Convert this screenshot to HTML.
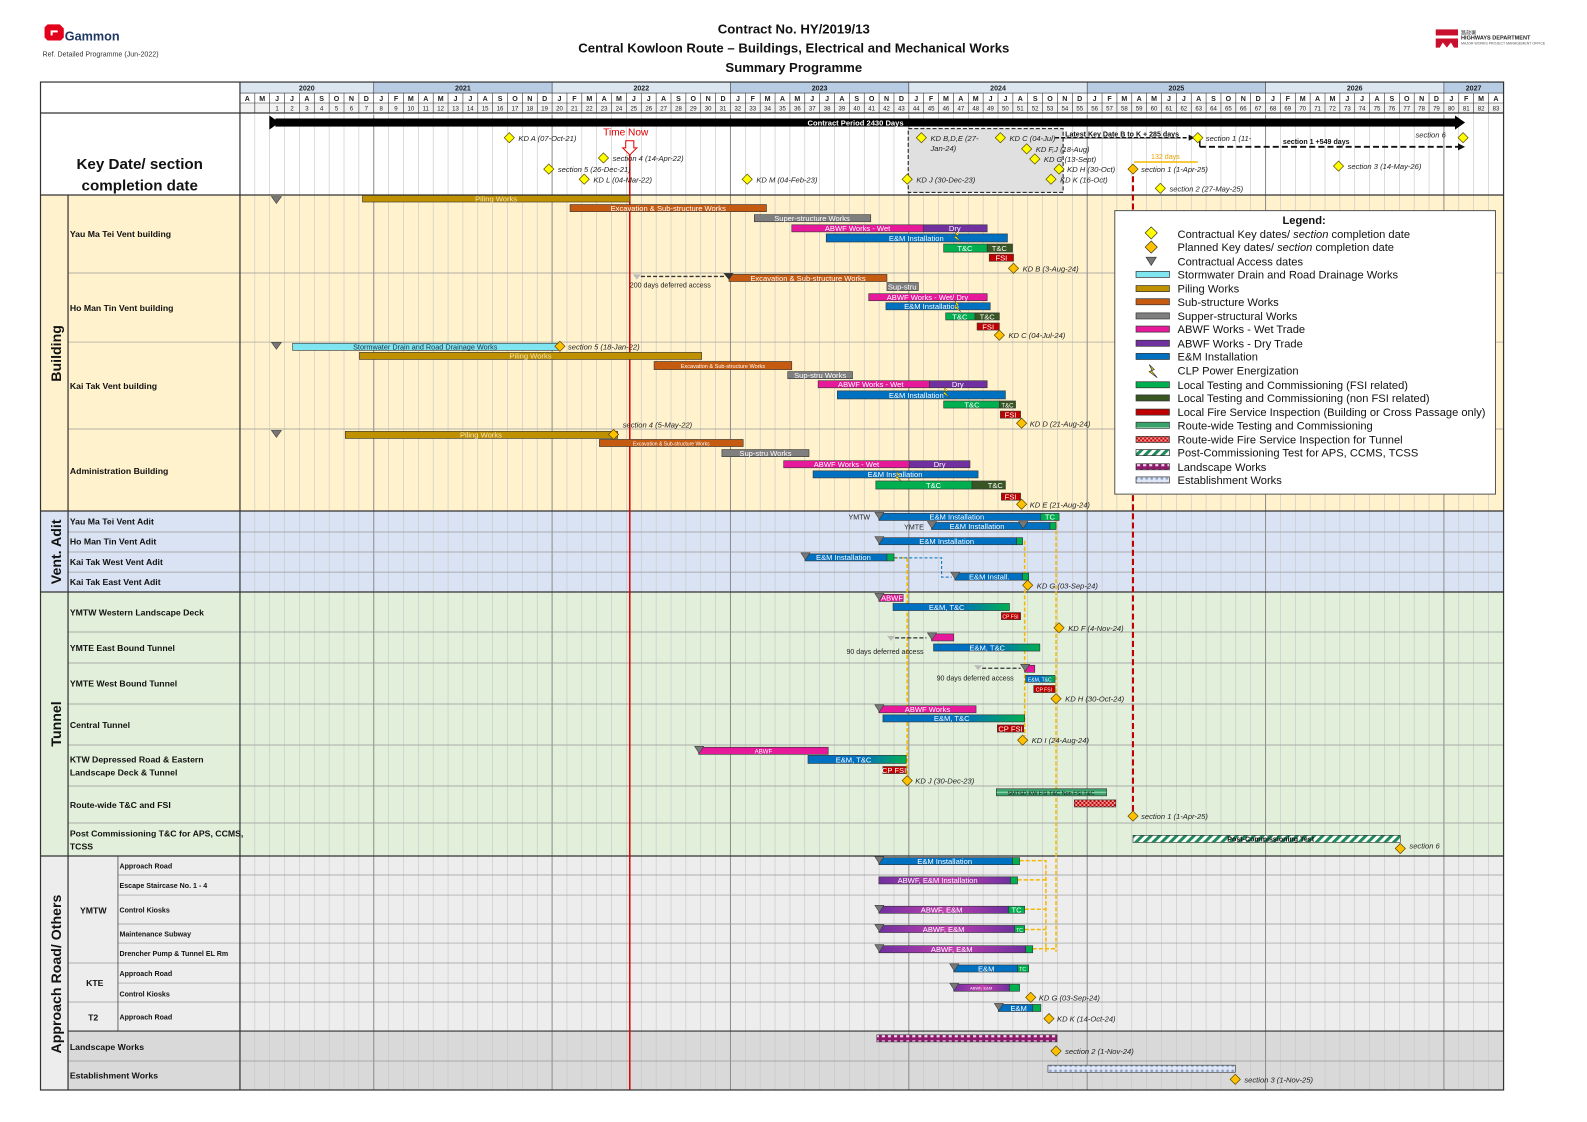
<!DOCTYPE html>
<html><head><meta charset="utf-8"><style>
html,body{margin:0;padding:0;background:#fff}
svg{display:block;font-family:"Liberation Sans",sans-serif}
.bt{font-size:7.5px;fill:#fff;text-anchor:middle}
.lb{font-size:7.5px;font-style:italic;fill:#222}
.rl{font-size:8.6px;font-weight:bold;fill:#111}
.sl{font-size:7px;font-weight:bold;fill:#111}
.b{stroke:#333;stroke-width:.6}
.lg{font-size:11px;fill:#111}
</style></head><body>
<svg width="1587" height="1122" viewBox="0 0 1567.4 1108.1" xmlns="http://www.w3.org/2000/svg">
<defs>
<pattern id="pLand" width="6" height="6" patternUnits="userSpaceOnUse"><rect width="6" height="6" fill="#8b1a6b"/><rect x="1" y="1.5" width="3" height="3" fill="#f6d5ee"/></pattern>
<pattern id="pEst" width="5" height="5" patternUnits="userSpaceOnUse"><rect width="5" height="5" fill="#dfe6f5"/><circle cx="2.5" cy="2.5" r="1.3" fill="#8fa3c9"/></pattern>
<pattern id="pPost" width="6" height="6" patternUnits="userSpaceOnUse" patternTransform="rotate(45)"><rect width="6" height="6" fill="#fff"/><rect width="3" height="6" fill="#1f8a5a"/></pattern>
<pattern id="pRW" width="6" height="6" patternUnits="userSpaceOnUse"><rect width="6" height="6" fill="#3aa36b"/><rect y="2" width="6" height="1" fill="#a8dfc0"/></pattern>
<pattern id="pRF" width="4" height="4" patternUnits="userSpaceOnUse"><rect width="4" height="4" fill="#c00000"/><rect width="2" height="2" fill="#f4a0a0"/><rect x="2" y="2" width="2" height="2" fill="#f4a0a0"/></pattern>
<linearGradient id="gET" x1="0" x2="1"><stop offset="0.55" stop-color="#0070c0"/><stop offset="1" stop-color="#00b050"/></linearGradient>
<linearGradient id="gAE" x1="0" x2="1"><stop offset="0" stop-color="#7030a0"/><stop offset="0.5" stop-color="#c040b0"/><stop offset="1" stop-color="#7030a0"/></linearGradient>
</defs>

<!-- logos & title -->
<path d="M47 24h12l4 4v9l-3 3H47l-3-3v-10z" fill="#e3001b"/>
<rect x="50" y="30" width="7" height="5" fill="#fff"/><rect x="52" y="32" width="6" height="4" fill="#e3001b"/>
<text x="64" y="40" font-size="12.5" font-weight="bold" fill="#1f3864">Gammon</text>
<text x="42" y="56" font-size="7" fill="#333">Ref. Detailed Programme (Jun-2022)</text>
<text x="784" y="33" font-size="13" font-weight="bold" text-anchor="middle" fill="#111">Contract No. HY/2019/13</text>
<text x="784" y="52" font-size="13" font-weight="bold" text-anchor="middle" fill="#111">Central Kowloon Route – Buildings, Electrical and Mechanical Works</text>
<text x="784" y="71" font-size="13" font-weight="bold" text-anchor="middle" fill="#111">Summary Programme</text>
<rect x="1418" y="29" width="22" height="6" fill="#c8102e"/><path d="M1418 38h22v9h-4l-3-5-4 5-4-5-3 5h-4z" fill="#c8102e"/>
<text x="1443" y="34" font-size="5" fill="#333">路政署</text>
<text x="1443" y="39" font-size="5.5" font-weight="bold" fill="#222">HIGHWAYS DEPARTMENT</text>
<text x="1443" y="44" font-size="3.5" fill="#555">MAJOR WORKS PROJECT MANAGEMENT OFFICE</text>

<!-- backgrounds -->
<rect x="40" y="81" width="1445" height="995.5" fill="#fff"/>
<rect x="40" y="192.6" width="1445" height="312.1" fill="#fff2cc"/>
<rect x="40" y="504.7" width="1445" height="80" fill="#dae3f3"/>
<rect x="40" y="584.7" width="1445" height="260.7" fill="#e2efda"/>
<rect x="40" y="845.4" width="1445" height="172.9" fill="#ededed"/>
<rect x="67.2" y="1018.3" width="1418" height="58.2" fill="#d9d9d9"/>
<rect x="40" y="1018.3" width="27.2" height="58.2" fill="#ededed"/>
<!-- header -->
<rect x="237" y="81" width="132.1" height="10.9" fill="#dce6f1"/>
<rect x="369.1" y="81" width="176.2" height="10.9" fill="#b8cce4"/>
<rect x="545.3" y="81" width="176.2" height="10.9" fill="#dce6f1"/>
<rect x="721.5" y="81" width="176.2" height="10.9" fill="#b8cce4"/>
<rect x="897.7" y="81" width="176.2" height="10.9" fill="#dce6f1"/>
<rect x="1073.9" y="81" width="176.2" height="10.9" fill="#b8cce4"/>
<rect x="1250.1" y="81" width="176.2" height="10.9" fill="#dce6f1"/>
<rect x="1426.3" y="81" width="58.7" height="10.9" fill="#b8cce4"/>
<rect x="237" y="101.7" width="1248" height="9.9" fill="#f2f2f2"/>
<rect x="1073.9" y="113" width="176.2" height="79.6" fill="#fff"/>
<g id="grid"></g>
<g font-size="7" font-weight="bold" text-anchor="middle" fill="#222">
<text x="303" y="89.5">2020</text><text x="457.2" y="89.5">2021</text><text x="633.4" y="89.5">2022</text><text x="809.5" y="89.5">2023</text><text x="985.7" y="89.5">2024</text><text x="1161.8" y="89.5">2025</text><text x="1338" y="89.5">2026</text><text x="1455.4" y="89.5">2027</text>
<text y="99.5" x="244.3 259.0 273.7 288.4 303.1 317.7 332.4 347.1 361.8 376.5 391.1 405.8 420.5 435.2 449.9 464.5 479.2 493.9 508.6 523.3 537.9 552.6 567.3 582.0 596.7 611.3 626.0 640.7 655.4 670.1 684.7 699.4 714.1 728.8 743.5 758.1 772.8 787.5 802.2 816.9 831.5 846.2 860.9 875.6 890.3 904.9 919.6 934.3 949.0 963.7 978.3 993.0 1007.7 1022.4 1037.1 1051.7 1066.4 1081.1 1095.8 1110.5 1125.1 1139.8 1154.5 1169.2 1183.9 1198.5 1213.2 1227.9 1242.6 1257.3 1271.9 1286.6 1301.3 1316.0 1330.7 1345.3 1360.0 1374.7 1389.4 1404.1 1418.7 1433.4 1448.1 1462.8 1477.5">AMJJASONDJFMAMJJASONDJFMAMJJASONDJFMAMJJASONDJFMAMJJASONDJFMAMJJASONDJFMAMJJASONDJFMA</text>
</g>
<g font-size="6" text-anchor="middle" fill="#222" id="nums">
<text x="273.7" y="109">1</text><text x="288.4" y="109">2</text><text x="303.1" y="109">3</text><text x="317.7" y="109">4</text><text x="332.4" y="109">5</text><text x="347.1" y="109">6</text><text x="361.8" y="109">7</text><text x="376.5" y="109">8</text><text x="391.1" y="109">9</text><text x="405.8" y="109">10</text><text x="420.5" y="109">11</text><text x="435.2" y="109">12</text><text x="449.9" y="109">13</text><text x="464.5" y="109">14</text><text x="479.2" y="109">15</text><text x="493.9" y="109">16</text><text x="508.6" y="109">17</text><text x="523.3" y="109">18</text><text x="537.9" y="109">19</text><text x="552.6" y="109">20</text><text x="567.3" y="109">21</text><text x="582.0" y="109">22</text><text x="596.7" y="109">23</text><text x="611.3" y="109">24</text><text x="626.0" y="109">25</text><text x="640.7" y="109">26</text><text x="655.4" y="109">27</text><text x="670.1" y="109">28</text><text x="684.7" y="109">29</text><text x="699.4" y="109">30</text><text x="714.1" y="109">31</text><text x="728.8" y="109">32</text><text x="743.5" y="109">33</text><text x="758.1" y="109">34</text><text x="772.8" y="109">35</text><text x="787.5" y="109">36</text><text x="802.2" y="109">37</text><text x="816.9" y="109">38</text><text x="831.5" y="109">39</text><text x="846.2" y="109">40</text><text x="860.9" y="109">41</text><text x="875.6" y="109">42</text><text x="890.3" y="109">43</text><text x="904.9" y="109">44</text><text x="919.6" y="109">45</text><text x="934.3" y="109">46</text><text x="949.0" y="109">47</text><text x="963.7" y="109">48</text><text x="978.3" y="109">49</text><text x="993.0" y="109">50</text><text x="1007.7" y="109">51</text><text x="1022.4" y="109">52</text><text x="1037.1" y="109">53</text><text x="1051.7" y="109">54</text><text x="1066.4" y="109">55</text><text x="1081.1" y="109">56</text><text x="1095.8" y="109">57</text><text x="1110.5" y="109">58</text><text x="1125.1" y="109">59</text><text x="1139.8" y="109">60</text><text x="1154.5" y="109">61</text><text x="1169.2" y="109">62</text><text x="1183.9" y="109">63</text><text x="1198.5" y="109">64</text><text x="1213.2" y="109">65</text><text x="1227.9" y="109">66</text><text x="1242.6" y="109">67</text><text x="1257.3" y="109">68</text><text x="1271.9" y="109">69</text><text x="1286.6" y="109">70</text><text x="1301.3" y="109">71</text><text x="1316.0" y="109">72</text><text x="1330.7" y="109">73</text><text x="1345.3" y="109">74</text><text x="1360.0" y="109">75</text><text x="1374.7" y="109">76</text><text x="1389.4" y="109">77</text><text x="1404.1" y="109">78</text><text x="1418.7" y="109">79</text><text x="1433.4" y="109">80</text><text x="1448.1" y="109">81</text><text x="1462.8" y="109">82</text><text x="1477.5" y="109">83</text>
</g>

<!-- horizontal row lines -->
<g stroke="#999" stroke-width=".7">
<line x1="67.2" x2="1485" y1="269.6" y2="269.6"/><line x1="67.2" x2="1485" y1="337.8" y2="337.8"/><line x1="67.2" x2="1485" y1="423.7" y2="423.7"/>
<line x1="67.2" x2="1485" y1="525.4" y2="525.4"/><line x1="67.2" x2="1485" y1="545.2" y2="545.2"/><line x1="67.2" x2="1485" y1="565" y2="565"/>
<line x1="67.2" x2="1485" y1="624.2" y2="624.2"/><line x1="67.2" x2="1485" y1="654.8" y2="654.8"/><line x1="67.2" x2="1485" y1="695.3" y2="695.3"/><line x1="67.2" x2="1485" y1="735.8" y2="735.8"/><line x1="67.2" x2="1485" y1="776.3" y2="776.3"/><line x1="67.2" x2="1485" y1="812.8" y2="812.8"/>
<line x1="116.5" x2="1485" y1="864.2" y2="864.2"/><line x1="116.5" x2="1485" y1="884" y2="884"/><line x1="116.5" x2="1485" y1="912.6" y2="912.6"/><line x1="116.5" x2="1485" y1="931.4" y2="931.4"/><line x1="67.2" x2="1485" y1="951.1" y2="951.1"/><line x1="116.5" x2="1485" y1="970.9" y2="970.9"/><line x1="67.2" x2="1485" y1="989.6" y2="989.6"/><line x1="67.2" x2="1485" y1="1047.9" y2="1047.9"/>
</g>
<g stroke="#333" stroke-width="1.2" fill="none">
<rect x="40" y="81" width="1445" height="995.5"/>
<line x1="40" x2="1485" y1="111.6" y2="111.6"/><line x1="40" x2="1485" y1="192.6" y2="192.6"/>
<line x1="40" x2="1485" y1="504.7" y2="504.7"/><line x1="40" x2="1485" y1="584.7" y2="584.7"/><line x1="40" x2="1485" y1="845.4" y2="845.4"/><line x1="67.2" x2="1485" y1="1018.3" y2="1018.3"/>
<line x1="237" x2="237" y1="81" y2="1076.5"/>
<line x1="67.2" x2="67.2" y1="192.6" y2="1076.5"/><line x1="116.5" x2="116.5" y1="845.4" y2="1018.3" stroke-width=".7"/>
<line x1="237" x2="1485" y1="91.9" y2="91.9" stroke-width=".6"/><line x1="237" x2="1485" y1="101.7" y2="101.7" stroke-width=".6"/>
</g>

<!-- left labels -->
<text x="138" y="167" font-size="15" font-weight="bold" text-anchor="middle" fill="#111">Key Date/ section</text>
<text x="138" y="188" font-size="15" font-weight="bold" text-anchor="middle" fill="#111">completion date</text>
<g font-size="14" font-weight="bold" text-anchor="middle" fill="#111">
<text transform="translate(60,349) rotate(-90)">Building</text>
<text transform="translate(60,545) rotate(-90)">Vent. Adit</text>
<text transform="translate(60,715) rotate(-90)">Tunnel</text>
<text transform="translate(60,962) rotate(-90)">Approach Road/ Others</text>
</g>
<g class="rl">
<text x="69" y="234" class="rl">Yau Ma Tei Vent building</text>
<text x="69" y="307" class="rl">Ho Man Tin Vent building</text>
<text x="69" y="384" class="rl">Kai Tak Vent building</text>
<text x="69" y="468" class="rl">Administration Building</text>
<text x="69" y="518" class="rl">Yau Ma Tei Vent Adit</text>
<text x="69" y="538" class="rl">Ho Man Tin Vent Adit</text>
<text x="69" y="558" class="rl">Kai Tak West Vent Adit</text>
<text x="69" y="578" class="rl">Kai Tak East Vent Adit</text>
<text x="69" y="608" class="rl">YMTW Western Landscape Deck</text>
<text x="69" y="643" class="rl">YMTE East Bound Tunnel</text>
<text x="69" y="678" class="rl">YMTE West Bound Tunnel</text>
<text x="69" y="719" class="rl">Central Tunnel</text>
<text x="69" y="753" class="rl">KTW Depressed Road &amp; Eastern</text>
<text x="69" y="766" class="rl">Landscape Deck &amp; Tunnel</text>
<text x="69" y="798" class="rl">Route-wide T&amp;C and FSI</text>
<text x="69" y="826" class="rl">Post Commissioning T&amp;C for APS, CCMS,</text>
<text x="69" y="839" class="rl">TCSS</text>
<text x="79" y="902" class="rl">YMTW</text>
<text x="85" y="974" class="rl">KTE</text>
<text x="87" y="1008" class="rl">T2</text>
<text x="69" y="1037" class="rl">Landscape Works</text>
<text x="69" y="1065" class="rl">Establishment Works</text>
</g>
<g class="sl">
<text x="118" y="858">Approach Road</text><text x="118" y="877">Escape Staircase No. 1 - 4</text><text x="118" y="901">Control Kiosks</text><text x="118" y="925">Maintenance Subway</text><text x="118" y="944">Drencher Pump &amp; Tunnel EL Rm</text><text x="118" y="964">Approach Road</text><text x="118" y="984">Control Kiosks</text><text x="118" y="1007">Approach Road</text>
</g>

<!-- key date area -->
<rect x="897" y="127" width="153" height="63" fill="#e0e0e0" stroke="#111" stroke-dasharray="4,2" stroke-width="1"/>
<rect x="272" y="117" width="1166" height="8" fill="#000"/>
<path d="M272 114 L282 121 L272 128 Z" fill="#000" transform="translate(-6,0)"/><path d="M1447 121 L1437 114 L1437 128 Z" fill="#000"/>
<text x="845" y="124" font-size="7.5" font-weight="bold" fill="#fff" text-anchor="middle">Contract Period 2430 Days</text>
<text x="1052" y="135" font-size="7" font-weight="bold" fill="#111" text-decoration="underline">Latest Key Date B to K + 285 days</text>
<line x1="1042" y1="136" x2="1176" y2="136" stroke="#111" stroke-width="1.5" stroke-dasharray="4,2"/>
<path d="M1180 136 l-6 -3 v6z" fill="#111"/>
<line x1="1185" y1="145" x2="1440" y2="145" stroke="#111" stroke-width="1.8" stroke-dasharray="6,3"/><line x1="1185" y1="137" x2="1185" y2="145" stroke="#111" stroke-width="1.5"/>
<path d="M1447 145 l-7 -3.5 v7z" fill="#111"/>
<text x="1300" y="142" font-size="7" font-weight="bold" fill="#111" text-anchor="middle">section 1 +549 days</text>
<text x="1151" y="157" font-size="7" fill="#e8a000" text-anchor="middle">132 days</text>
<line x1="1120" y1="160" x2="1183" y2="160" stroke="#f5b800" stroke-width="1.5"/>
<line x1="1119" y1="174" x2="1119" y2="806" stroke="#c00000" stroke-width="2" stroke-dasharray="6,3"/>
<!-- time now -->
<line x1="622" y1="140" x2="622" y2="1076" stroke="#e00000" stroke-width="1.5"/>
<text x="618" y="134" font-size="10" fill="#e00000" text-anchor="middle">Time Now</text>
<path d="M618 139h8v7h3l-7 7-7-7h3z" fill="#fff" stroke="#e00000" stroke-width="1"/>

<!-- yellow dashed links -->
<g stroke="#f5b800" stroke-width="1.5" stroke-dasharray="4,2" fill="none">
<line x1="896" y1="551" x2="896" y2="770"/><line x1="883" y1="551" x2="896" y2="551"/>
<line x1="1012" y1="534" x2="1012" y2="727"/>
<line x1="1043" y1="512" x2="1043" y2="940"/><line x1="1034" y1="520" x2="1043" y2="520"/>
<path d="M1007 850H1033V940M1005 869H1033M1012 898H1033M1012 918H1033M1020 937H1043"/>
</g>
<path d="M883 551H930V570H940" stroke="#0070c0" stroke-width="1" stroke-dasharray="3,2" fill="none"/>

<g id="bars">
<!-- Yau Ma Tei -->
<rect class="b" x="358" y="193" width="264" height="6.5" fill="#bf9000"/><text class="bt" x="490" y="199" fill="#f3e3b0" style="fill:#f5e6b5">Piling Works</text>
<rect class="b" x="563" y="202" width="194" height="7" fill="#c55a11"/><text class="bt" x="660" y="208.3">Excavation &amp; Sub-structure Works</text>
<rect class="b" x="745" y="212" width="115" height="7" fill="#7f7f7f"/><text class="bt" x="802" y="218.3">Super-structure Works</text>
<rect class="b" x="782" y="222" width="130" height="7" fill="#e6199a"/><text class="bt" x="847" y="228.3">ABWF Works - Wet</text>
<rect class="b" x="912" y="222" width="63" height="7" fill="#7030a0"/><text class="bt" x="943" y="228.3">Dry</text>
<rect class="b" x="816" y="231" width="179" height="8" fill="#0070c0"/><text class="bt" x="905" y="238">E&amp;M Installation</text>
<rect class="b" x="932" y="241" width="43" height="8" fill="#00b050"/><text class="bt" x="953" y="248">T&amp;C</text>
<rect class="b" x="975" y="241" width="25" height="8" fill="#375623"/><text class="bt" x="987" y="248">T&amp;C</text>
<rect class="b" x="977" y="251" width="24" height="7" fill="#c00000"/><text class="bt" x="989" y="257.3">FSI</text>
<path d="M943 228l4 4-3 1 5 6-7-5 3-1z" fill="#ffeb00" stroke="#333" stroke-width=".4"/>
<!-- Ho Man Tin -->
<path d="M625 271h8l-4 5z" fill="#bbb"/><line x1="633" y1="273" x2="716" y2="273" stroke="#333" stroke-width="1.3" stroke-dasharray="4,2"/>
<text x="622" y="284" font-size="7" fill="#222">200 days deferred access</text>
<rect class="b" x="720" y="271" width="156" height="7" fill="#c55a11"/><text class="bt" x="798" y="277.3">Excavation &amp; Sub-structure Works</text>
<rect class="b" x="876" y="279" width="31" height="8" fill="#7f7f7f"/><text class="bt" x="891" y="286">Sup-stru</text>
<rect class="b" x="858" y="290" width="117" height="7" fill="#e6199a"/><text class="bt" x="916" y="296.3">ABWF Works - Wet/ Dry</text>
<rect class="b" x="875" y="299" width="103" height="7" fill="#0070c0"/><text class="bt" x="920" y="305.3">E&amp;M Installation</text>
<rect class="b" x="934" y="309" width="29" height="7" fill="#00b050"/><text class="bt" x="948" y="315.3">T&amp;C</text>
<rect class="b" x="963" y="309" width="24" height="7" fill="#375623"/><text class="bt" x="975" y="315.3">T&amp;C</text>
<rect class="b" x="965" y="319" width="22" height="7" fill="#c00000"/><text class="bt" x="976" y="325.3">FSI</text>
<!-- Kai Tak -->
<rect class="b" x="289" y="339" width="263" height="7" fill="#7fe5f0"/><text x="420" y="345" font-size="7.2" text-anchor="middle" fill="#234">Stormwater Drain and Road Drainage Works</text>
<rect class="b" x="355" y="348" width="338" height="7" fill="#bf9000"/><text class="bt" x="524" y="354.3" style="fill:#f5e6b5">Piling Works</text>
<rect class="b" x="646" y="357" width="136" height="8" fill="#c55a11"/><text class="bt" x="714" y="363.5" style="font-size:5.5px">Excavation &amp; Sub-structure Works</text>
<rect class="b" x="778" y="367" width="64" height="7" fill="#7f7f7f"/><text class="bt" x="810" y="373.3">Sup-stru Works</text>
<rect class="b" x="808" y="376" width="110" height="7" fill="#e6199a"/><text class="bt" x="860" y="382.3">ABWF Works - Wet</text>
<rect class="b" x="918" y="376" width="57" height="7" fill="#7030a0"/><text class="bt" x="946" y="382.3">Dry</text>
<rect class="b" x="827" y="386" width="166" height="8" fill="#0070c0"/><text class="bt" x="905" y="393">E&amp;M Installation</text>
<rect class="b" x="932" y="396" width="55" height="7" fill="#00b050"/><text class="bt" x="960" y="402.3">T&amp;C</text>
<rect class="b" x="987" y="396" width="16" height="7" fill="#375623"/><text class="bt" x="995" y="402.3" style="font-size:6px">T&amp;C</text>
<rect class="b" x="988" y="406" width="20" height="7" fill="#c00000"/><text class="bt" x="998" y="412.3">FSI</text>
<!-- Admin -->
<rect class="b" x="341" y="426" width="269" height="7" fill="#bf9000"/><text class="bt" x="475" y="432.3" style="fill:#f5e6b5">Piling Works</text>
<text x="615" y="422" font-size="7.5" font-style="italic" fill="#222">section 4 (5-May-22)</text>
<rect class="b" x="592" y="434" width="142" height="7" fill="#c55a11"/><text class="bt" x="663" y="440" style="font-size:5px">Excavation &amp; Sub-structure Works</text>
<rect class="b" x="713" y="444" width="86" height="7" fill="#7f7f7f"/><text class="bt" x="756" y="450.3">Sup-stru Works</text>
<rect class="b" x="774" y="455" width="124" height="7" fill="#e6199a"/><text class="bt" x="836" y="461.3">ABWF Works - Wet</text>
<rect class="b" x="898" y="455" width="60" height="7" fill="#7030a0"/><text class="bt" x="928" y="461.3">Dry</text>
<rect class="b" x="803" y="465" width="163" height="7" fill="#0070c0"/><text class="bt" x="884" y="471.3">E&amp;M Installation</text>
<rect class="b" x="865" y="475" width="95" height="8" fill="#00b050"/><text class="bt" x="922" y="482">T&amp;C</text>
<rect class="b" x="960" y="475" width="33" height="8" fill="#375623"/><text class="bt" x="983" y="482">T&amp;C</text>
<rect class="b" x="989" y="487" width="19" height="7" fill="#c00000"/><text class="bt" x="998" y="493.3">FSI</text>
<path d="M885 465l4 4-3 1 5 6-7-5 3-1z" fill="#ffeb00" stroke="#333" stroke-width=".4"/>
<path d="M943 297l4 4-3 1 5 6-7-5 3-1z" fill="#ffeb00" stroke="#333" stroke-width=".4"/>
<path d="M932 382l4 4-3 1 5 6-7-5 3-1z" fill="#ffeb00" stroke="#333" stroke-width=".4"/>

<!-- Vent adits -->
<text x="838" y="513" font-size="7" fill="#222">YMTW</text><text x="893" y="523" font-size="7" fill="#222">YMTE</text>
<rect class="b" x="868" y="507" width="160" height="7" fill="#0070c0"/><text class="bt" x="945" y="513.3">E&amp;M Installation</text>
<rect class="b" x="1028" y="507" width="18" height="7" fill="#00b050"/><text class="bt" x="1037" y="513.3">TC</text>
<rect class="b" x="920" y="516" width="117" height="7" fill="#0070c0"/><text class="bt" x="965" y="522.3">E&amp;M Installation</text>
<rect class="b" x="1037" y="516" width="6" height="7" fill="#00b050"/>
<rect class="b" x="868" y="531" width="136" height="7" fill="#0070c0"/><text class="bt" x="935" y="537.3">E&amp;M Installation</text>
<rect class="b" x="1004" y="531" width="6" height="7" fill="#00b050"/>
<rect class="b" x="795" y="547" width="81" height="7" fill="#0070c0"/><text class="bt" x="833" y="553.3">E&amp;M Installation</text>
<rect class="b" x="876" y="547" width="7" height="7" fill="#00b050"/>
<rect class="b" x="943" y="566" width="67" height="7" fill="#0070c0"/><text class="bt" x="977" y="572.3">E&amp;M Install.</text>
<rect class="b" x="1010" y="566" width="6" height="7" fill="#00b050"/>

<!-- Tunnel -->
<rect class="b" x="868" y="587" width="24" height="7" fill="#e6199a"/><text class="bt" x="881" y="593.3">ABWF</text>
<rect class="b" x="882" y="596" width="115" height="7" fill="url(#gET)"/><text class="bt" x="935" y="602.3">E&amp;M, T&amp;C</text>
<rect class="b" x="989" y="605" width="19" height="7" fill="#c00000"/><text class="bt" x="998" y="611" style="font-size:5px">CP FSI</text>
<path d="M876 628h8l-4 5z" fill="#bbb"/><line x1="884" y1="630" x2="915" y2="630" stroke="#333" stroke-width="1.3" stroke-dasharray="4,2"/>
<rect class="b" x="920" y="626" width="22" height="7" fill="#e6199a"/>
<rect class="b" x="922" y="636" width="105" height="7" fill="url(#gET)"/><text class="bt" x="975" y="642.3">E&amp;M, T&amp;C</text>
<text x="836" y="646" font-size="7" fill="#222">90 days deferred access</text>
<path d="M962 657h8l-4 5z" fill="#bbb"/><line x1="970" y1="660" x2="1008" y2="660" stroke="#333" stroke-width="1.3" stroke-dasharray="4,2"/>
<rect class="b" x="1012" y="657" width="10" height="7" fill="#e6199a"/>
<text x="925" y="672" font-size="7" fill="#222">90 days deferred access</text>
<rect class="b" x="1013" y="667" width="29" height="7" fill="url(#gET)"/><text class="bt" x="1027" y="673" style="font-size:5px">E&amp;M, T&amp;C</text>
<rect class="b" x="1021" y="677" width="21" height="7" fill="#c00000"/><text class="bt" x="1031" y="683" style="font-size:5px">CP FSI</text>
<rect class="b" x="868" y="697" width="96" height="7" fill="#e6199a"/><text class="bt" x="916" y="703.3">ABWF Works</text>
<rect class="b" x="872" y="706" width="140" height="7" fill="url(#gET)"/><text class="bt" x="940" y="712.3">E&amp;M, T&amp;C</text>
<rect class="b" x="985" y="716" width="26" height="7" fill="#c00000"/><text class="bt" x="998" y="722.3">CP FSI</text>
<rect class="b" x="690" y="738" width="128" height="7" fill="#e6199a"/><text class="bt" x="754" y="744" style="font-size:6px">ABWF</text>
<rect class="b" x="798" y="746" width="97" height="8" fill="url(#gET)"/><text class="bt" x="843" y="753">E&amp;M, T&amp;C</text>
<rect class="b" x="872" y="757" width="23" height="7" fill="#c00000"/><text class="bt" x="883" y="763.3">CP FSI</text>
<rect class="b" x="984" y="779" width="109" height="7" fill="url(#pRW)"/><text x="1038" y="785" font-size="5.5" text-anchor="middle" fill="#111">SMTSD KW FSI T&amp;C Non FSI T&amp;C</text>
<rect class="b" x="1061" y="790" width="41" height="7" fill="url(#pRF)"/>
<rect class="b" x="1119" y="825" width="264" height="7" fill="url(#pPost)"/><text x="1255" y="831" font-size="7" font-weight="bold" text-anchor="middle" fill="#111">Post-Commissioning Test</text>

<!-- Approach -->
<rect class="b" x="868" y="847" width="132" height="7" fill="#0070c0"/><text class="bt" x="933" y="853.3">E&amp;M Installation</text><rect class="b" x="1000" y="847" width="7" height="7" fill="#00b050"/>
<rect class="b" x="868" y="866" width="130" height="7" fill="url(#gAE)"/><text class="bt" x="926" y="872.3">ABWF, E&amp;M Installation</text><rect class="b" x="998" y="866" width="7" height="7" fill="#00b050"/>
<rect class="b" x="868" y="895" width="128" height="7" fill="url(#gAE)"/><text class="bt" x="930" y="901.3">ABWF, E&amp;M</text><rect class="b" x="996" y="895" width="16" height="7" fill="#00b050"/><text class="bt" x="1004" y="901.3">TC</text>
<rect class="b" x="868" y="914" width="134" height="7" fill="url(#gAE)"/><text class="bt" x="932" y="920.3">ABWF, E&amp;M</text><rect class="b" x="1002" y="914" width="10" height="7" fill="#00b050"/><text class="bt" x="1007" y="920.3" style="font-size:5px">TC</text>
<rect class="b" x="868" y="934" width="145" height="7" fill="url(#gAE)"/><text class="bt" x="940" y="940.3">ABWF, E&amp;M</text><rect class="b" x="1013" y="934" width="7" height="7" fill="#00b050"/>
<rect class="b" x="942" y="953" width="63" height="7" fill="#0070c0"/><text class="bt" x="974" y="959.3">E&amp;M</text><rect class="b" x="1005" y="953" width="11" height="7" fill="#00b050"/><text class="bt" x="1010" y="959" style="font-size:5px">TC</text>
<rect class="b" x="942" y="972" width="55" height="7" fill="url(#gAE)"/><text class="bt" x="969" y="977.5" style="font-size:4px">ABWF, E&amp;M</text><rect class="b" x="997" y="972" width="10" height="7" fill="#00b050"/>
<rect class="b" x="986" y="992" width="34" height="7" fill="#0070c0"/><text class="bt" x="1006" y="998.3">E&amp;M</text><rect class="b" x="1020" y="992" width="8" height="7" fill="#00b050"/>
<rect class="b" x="866" y="1022" width="178" height="7" fill="url(#pLand)"/>
<rect class="b" x="1035" y="1052" width="185" height="7" fill="url(#pEst)"/>
</g>

<!-- triangles (access dates) -->
<g fill="#777" stroke="#333" stroke-width=".5">
<path d="M268 194h10l-5 7z"/><path d="M268 338h10l-5 7z"/><path d="M268 425h10l-5 7z"/>
<path d="M715 270h9l-4 6z" fill="#333"/>
<path d="M864 506h9l-4.5 7z"/><path d="M916 515h9l-4.5 7z"/><path d="M1006 515h9l-4.5 7z"/><path d="M864 530h9l-4.5 7z"/><path d="M791 546h9l-4.5 7z"/><path d="M939 565h9l-4.5 7z"/>
<path d="M864 586h9l-4.5 7z"/><path d="M916 625h9l-4.5 7z"/><path d="M1008 656h9l-4.5 7z"/><path d="M864 696h9l-4.5 7z"/><path d="M686 737h9l-4.5 7z"/>
<path d="M864 846h9l-4.5 7z"/><path d="M864 894h9l-4.5 7z"/><path d="M864 913h9l-4.5 7z"/><path d="M864 933h9l-4.5 7z"/><path d="M938 952h9l-4.5 7z"/><path d="M938 971h9l-4.5 7z"/><path d="M982 991h9l-4.5 7z"/>
</g>

<!-- diamonds -->
<g stroke="#5a4a00" stroke-width=".7">
<g fill="#ffff00">
<path d="M503 131l5 5-5 5-5-5z"/><path d="M542 162l5 5-5 5-5-5z"/><path d="M596 151l5 5-5 5-5-5z"/><path d="M577 172l5 5-5 5-5-5z"/><path d="M738 172l5 5-5 5-5-5z"/>
<path d="M910 131l5 5-5 5-5-5z"/><path d="M988 131l5 5-5 5-5-5z"/><path d="M1014 142l5 5-5 5-5-5z"/><path d="M1022 152l5 5-5 5-5-5z"/><path d="M1046 162l5 5-5 5-5-5z"/><path d="M896 172l5 5-5 5-5-5z"/><path d="M1038 172l5 5-5 5-5-5z"/>
<path d="M1183 131l5 5-5 5-5-5z"/><path d="M1445 131l5 5-5 5-5-5z"/><path d="M1322 159l5 5-5 5-5-5z"/><path d="M1146 181l5 5-5 5-5-5z"/>
</g>
<g fill="#ffc000">
<path d="M1119 162l5 5-5 5-5-5z"/>
<path d="M1001 260l5 5-5 5-5-5z"/><path d="M987 326l5 5-5 5-5-5z"/><path d="M553 337l5 5-5 5-5-5z"/><path d="M1009 413l5 5-5 5-5-5z"/><path d="M606 424l5 5-5 5-5-5z"/><path d="M1009 493l5 5-5 5-5-5z"/>
<path d="M1015 573l5 5-5 5-5-5z"/><path d="M1046 615l5 5-5 5-5-5z"/><path d="M1043 685l5 5-5 5-5-5z"/><path d="M1010 726l5 5-5 5-5-5z"/><path d="M896 766l5 5-5 5-5-5z"/><path d="M1119 801l5 5-5 5-5-5z"/><path d="M1383 833l5 5-5 5-5-5z"/>
<path d="M1018 980l5 5-5 5-5-5z"/><path d="M1036 1001l5 5-5 5-5-5z"/><path d="M1043 1033l5 5-5 5-5-5z"/><path d="M1220 1061l5 5-5 5-5-5z"/>
</g></g>
<g class="lb">
<text x="512" y="139">KD A (07-Oct-21)</text><text x="551" y="170">section 5 (26-Dec-21)</text><text x="605" y="159">section 4 (14-Apr-22)</text><text x="586" y="180">KD L (04-Mar-22)</text><text x="747" y="180">KD M (04-Feb-23)</text>
<text x="919" y="139">KD B,D,E (27-</text><text x="919" y="149">Jan-24)</text><text x="997" y="139">KD C (04-Jul)</text><text x="1023" y="150">KD F,J (18-Aug)</text><text x="1031" y="160">KD G (13-Sept)</text><text x="1054" y="170">KD H (30-Oct)</text><text x="905" y="180">KD J (30-Dec-23)</text><text x="1047" y="180">KD K (16-Oct)</text>
<text x="1191" y="139">section 1 (11-</text><text x="1398" y="136">section 6</text><text x="1127" y="170">section 1 (1-Apr-25)</text><text x="1331" y="167">section 3 (14-May-26)</text><text x="1155" y="189">section 2 (27-May-25)</text>
<text x="1010" y="268">KD B (3-Aug-24)</text><text x="996" y="334">KD C (04-Jul-24)</text><text x="561" y="345">section 5 (18-Jan-22)</text><text x="1017" y="421">KD D (21-Aug-24)</text><text x="1017" y="501">KD E (21-Aug-24)</text>
<text x="1024" y="581">KD G (03-Sep-24)</text><text x="1055" y="623">KD F (4-Nov-24)</text><text x="1052" y="693">KD H (30-Oct-24)</text><text x="1019" y="734">KD I (24-Aug-24)</text><text x="904" y="774">KD J (30-Dec-23)</text><text x="1127" y="809">section 1 (1-Apr-25)</text><text x="1392" y="838">section 6</text>
<text x="1026" y="988">KD G (03-Sep-24)</text><text x="1044" y="1009">KD K (14-Oct-24)</text><text x="1052" y="1041">section 2 (1-Nov-24)</text><text x="1229" y="1069">section 3 (1-Nov-25)</text>
</g>

<!-- legend -->
<rect x="1101" y="208" width="376" height="280" fill="#fff" stroke="#555" stroke-width="1"/>
<text x="1288" y="221" font-size="11" font-weight="bold" text-anchor="middle" fill="#111">Legend:</text>
<g stroke="#333" stroke-width=".7">
<path d="M1137 224l6 6-6 6-6-6z" fill="#ffff00"/><path d="M1137 238l6 6-6 6-6-6z" fill="#ffc000"/><path d="M1132 254h10l-5 8z" fill="#777"/>
<rect x="1122" y="268" width="33" height="6" fill="#7fe5f0"/><rect x="1122" y="282" width="33" height="6" fill="#bf9000"/><rect x="1122" y="295" width="33" height="6" fill="#c55a11"/><rect x="1122" y="309" width="33" height="6" fill="#7f7f7f"/><rect x="1122" y="322" width="33" height="6" fill="#e6199a"/><rect x="1122" y="336" width="33" height="6" fill="#7030a0"/><rect x="1122" y="349" width="33" height="6" fill="#0070c0"/>
<path d="M1135 360l5 5-3 1 6 7-8-6 3-1z" fill="#ffeb00"/>
<rect x="1122" y="377" width="33" height="6" fill="#00b050"/><rect x="1122" y="390" width="33" height="6" fill="#375623"/><rect x="1122" y="404" width="33" height="6" fill="#c00000"/><rect x="1122" y="417" width="33" height="6" fill="url(#pRW)"/><rect x="1122" y="431" width="33" height="6" fill="url(#pRF)"/><rect x="1122" y="444" width="33" height="6" fill="url(#pPost)"/><rect x="1122" y="458" width="33" height="6" fill="url(#pLand)"/><rect x="1122" y="471" width="33" height="6" fill="url(#pEst)"/>
</g>
<g class="lg">
<text x="1163" y="235">Contractual Key dates/ <tspan font-style="italic">section</tspan> completion date</text>
<text x="1163" y="248">Planned Key dates/ <tspan font-style="italic">section</tspan> completion date</text>
<text x="1163" y="262">Contractual Access dates</text>
<text x="1163" y="275">Stormwater Drain and Road Drainage Works</text>
<text x="1163" y="289">Piling Works</text>
<text x="1163" y="302">Sub-structure Works</text>
<text x="1163" y="316">Supper-structural Works</text>
<text x="1163" y="329">ABWF Works - Wet Trade</text>
<text x="1163" y="343">ABWF Works - Dry Trade</text>
<text x="1163" y="356">E&amp;M Installation</text>
<text x="1163" y="370">CLP Power Energization</text>
<text x="1163" y="384">Local Testing and Commissioning (FSI related)</text>
<text x="1163" y="397">Local Testing and Commissioning (non FSI related)</text>
<text x="1163" y="411">Local Fire Service Inspection (Building or Cross Passage only)</text>
<text x="1163" y="424">Route-wide Testing and Commissioning</text>
<text x="1163" y="438">Route-wide Fire Service Inspection for Tunnel</text>
<text x="1163" y="451">Post-Commissioning Test for APS, CCMS, TCSS</text>
<text x="1163" y="465">Landscape Works</text>
<text x="1163" y="478">Establishment Works</text>
</g>
</svg>
<script>
(function(){
var g=document.getElementById('grid'),ns='http://www.w3.org/2000/svg',s='';
var yb=[9,21,33,45,57,69,81];
for(var i=1;i<85;i++){var x=(237+14.68*i).toFixed(2);var yr=yb.indexOf(i)>=0;
s+='<line x1="'+x+'" x2="'+x+'" y1="113" y2="1076.5" stroke="'+(yr?'#8c8c8c':'#c6c6c6')+'" stroke-width="'+(yr?1:.6)+'"/>';
s+='<line x1="'+x+'" x2="'+x+'" y1="'+(yr?81:91.9)+'" y2="111.6" stroke="#333" stroke-width=".6"/>';}
g.innerHTML=s;
})();
</script>
</body></html>
